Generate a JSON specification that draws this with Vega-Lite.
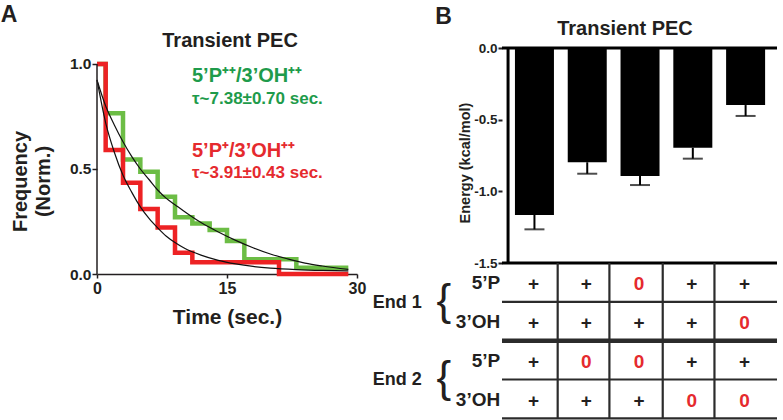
{
  "$schema": "https://vega.github.io/schema/vega-lite/v6.json",
  "background": "white",
  "padding": {"left": 0, "top": 4, "right": 0, "bottom": 0},
  "spacing": 6,
  "config": {
    "font": "Liberation Sans",
    "view": {"stroke": null},
    "axis": {"grid": false, "labelFontWeight": "bold", "titleFontWeight": "bold", "labelColor": "#231f20", "titleColor": "#231f20", "domainColor": "#231f20", "tickColor": "#231f20", "labelFont": "Liberation Sans", "titleFont": "Liberation Sans"}
  },
  "datasets": {
    "green_hist": [
      {"time": 0, "frequency": 1.0}, {"time": 1, "frequency": 0.765}, {"time": 3, "frequency": 0.545},
      {"time": 5, "frequency": 0.487}, {"time": 7, "frequency": 0.368}, {"time": 9, "frequency": 0.27},
      {"time": 11, "frequency": 0.24}, {"time": 13, "frequency": 0.21}, {"time": 15, "frequency": 0.157},
      {"time": 17, "frequency": 0.07}, {"time": 19, "frequency": 0.07}, {"time": 21, "frequency": 0.07},
      {"time": 23, "frequency": 0.03}, {"time": 25, "frequency": 0.03}, {"time": 27, "frequency": 0.03},
      {"time": 29, "frequency": 0.03}
    ],
    "red_hist": [
      {"time": 0, "frequency": 1.0}, {"time": 1, "frequency": 0.59}, {"time": 3, "frequency": 0.435},
      {"time": 5, "frequency": 0.31}, {"time": 7, "frequency": 0.222}, {"time": 9, "frequency": 0.101},
      {"time": 11, "frequency": 0.056}, {"time": 13, "frequency": 0.056}, {"time": 15, "frequency": 0.056},
      {"time": 17, "frequency": 0.056}, {"time": 19, "frequency": 0.056}, {"time": 21, "frequency": 0},
      {"time": 23, "frequency": 0}, {"time": 25, "frequency": 0}, {"time": 27, "frequency": 0},
      {"time": 29, "frequency": 0}
    ],
    "green_fit": [
      {"time": 0, "frequency": 0.924}, {"time": 1, "frequency": 0.80}, {"time": 2, "frequency": 0.71},
      {"time": 3, "frequency": 0.63}, {"time": 4, "frequency": 0.56}, {"time": 5, "frequency": 0.50},
      {"time": 6, "frequency": 0.45}, {"time": 7, "frequency": 0.40}, {"time": 8, "frequency": 0.36},
      {"time": 9, "frequency": 0.33}, {"time": 10, "frequency": 0.30}, {"time": 12, "frequency": 0.245},
      {"time": 14, "frequency": 0.20}, {"time": 16, "frequency": 0.16}, {"time": 18, "frequency": 0.125},
      {"time": 20, "frequency": 0.095}, {"time": 22, "frequency": 0.072}, {"time": 24, "frequency": 0.052},
      {"time": 26, "frequency": 0.038}, {"time": 29, "frequency": 0.022}
    ],
    "red_fit": [
      {"time": 0, "frequency": 0.924}, {"time": 1, "frequency": 0.72}, {"time": 2, "frequency": 0.58},
      {"time": 3, "frequency": 0.47}, {"time": 4, "frequency": 0.39}, {"time": 5, "frequency": 0.32},
      {"time": 6, "frequency": 0.265}, {"time": 7, "frequency": 0.22}, {"time": 8, "frequency": 0.18},
      {"time": 9, "frequency": 0.15}, {"time": 10, "frequency": 0.125}, {"time": 12, "frequency": 0.09},
      {"time": 14, "frequency": 0.065}, {"time": 16, "frequency": 0.048}, {"time": 18, "frequency": 0.036},
      {"time": 20, "frequency": 0.028}, {"time": 23, "frequency": 0.021}, {"time": 26, "frequency": 0.017},
      {"time": 29, "frequency": 0.015}
    ],
    "energy": [
      {"col": 1, "energy": -1.165, "lower": -1.265},
      {"col": 2, "energy": -0.797, "lower": -0.877},
      {"col": 3, "energy": -0.893, "lower": -0.956},
      {"col": 4, "energy": -0.696, "lower": -0.772},
      {"col": 5, "energy": -0.398, "lower": -0.474}
    ],
    "cells": [
      {"col": 1, "row": 1, "mark": "+"}, {"col": 2, "row": 1, "mark": "+"}, {"col": 3, "row": 1, "mark": "0"}, {"col": 4, "row": 1, "mark": "+"}, {"col": 5, "row": 1, "mark": "+"},
      {"col": 1, "row": 2, "mark": "+"}, {"col": 2, "row": 2, "mark": "+"}, {"col": 3, "row": 2, "mark": "+"}, {"col": 4, "row": 2, "mark": "+"}, {"col": 5, "row": 2, "mark": "0"},
      {"col": 1, "row": 3, "mark": "+"}, {"col": 2, "row": 3, "mark": "0"}, {"col": 3, "row": 3, "mark": "0"}, {"col": 4, "row": 3, "mark": "+"}, {"col": 5, "row": 3, "mark": "+"},
      {"col": 1, "row": 4, "mark": "+"}, {"col": 2, "row": 4, "mark": "+"}, {"col": 3, "row": 4, "mark": "+"}, {"col": 4, "row": 4, "mark": "0"}, {"col": 5, "row": 4, "mark": "0"}
    ],
    "row_labels": [
      {"row": 1, "label": "5’P"}, {"row": 2, "label": "3’OH"}, {"row": 3, "label": "5’P"}, {"row": 4, "label": "3’OH"}
    ],
    "end_labels": [
      {"row": 1.5, "label": "End 1"}, {"row": 3.5, "label": "End 2"}
    ],
    "thin_rows": [{"boundary": 1.5}, {"boundary": 3.5}, {"boundary": 4.5}],
    "thick_rows": [{"boundary": 2.5}],
    "col_edges": [{"edge": 1.44}, {"edge": 2.42}, {"edge": 3.43}, {"edge": 4.41}]
  },
  "hconcat": [
    {
      "width": 260,
      "height": 226,
      "layer": [
        {
          "data": {"name": "green_hist"},
          "mark": {"type": "line", "interpolate": "step-after", "color": "#6cbd45", "strokeWidth": 4.5},
          "encoding": {
            "x": {"field": "time", "type": "quantitative", "scale": {"domain": [0, 30], "nice": false},
              "axis": {"values": [0, 15, 30], "title": "Time (sec.)", "titleFontSize": 21, "labelFontSize": 16, "tickSize": 4, "tickWidth": 1.5, "domainWidth": 1.5, "labelPadding": 2, "titlePadding": 10, "labelFlush": false}},
            "y": {"field": "frequency", "type": "quantitative", "scale": {"domain": [0, 1.07619], "nice": false},
              "axis": {"values": [0, 0.5, 1], "format": ".1f", "domain": false, "title": ["Frequency", "(Norm.)"], "titleFontSize": 20, "titleLineHeight": 23, "titleY": 133, "labelFontSize": 15.5, "tickSize": 5, "tickWidth": 1.5, "labelPadding": 1, "titlePadding": 16}}
          }
        },
        {
          "data": {"name": "red_hist"},
          "mark": {"type": "line", "interpolate": "step-after", "color": "#ed2224", "strokeWidth": 4.5},
          "encoding": {
            "x": {"field": "time", "type": "quantitative", "scale": {"domain": [0, 30], "nice": false}},
            "y": {"field": "frequency", "type": "quantitative", "scale": {"domain": [0, 1.07619], "nice": false}}
          }
        },
        {
          "data": {"name": "green_fit"},
          "mark": {"type": "line", "interpolate": "monotone", "color": "#111111", "strokeWidth": 1.2},
          "encoding": {
            "x": {"field": "time", "type": "quantitative", "scale": {"domain": [0, 30], "nice": false}},
            "y": {"field": "frequency", "type": "quantitative", "scale": {"domain": [0, 1.07619], "nice": false}}
          }
        },
        {
          "data": {"name": "red_fit"},
          "mark": {"type": "line", "interpolate": "monotone", "color": "#111111", "strokeWidth": 1.2},
          "encoding": {
            "x": {"field": "time", "type": "quantitative", "scale": {"domain": [0, 30], "nice": false}},
            "y": {"field": "frequency", "type": "quantitative", "scale": {"domain": [0, 1.07619], "nice": false}}
          }
        },
        {
          "data": {"values": [{"start": 0, "end": 1}]},
          "mark": {"type": "rule", "color": "#231f20", "strokeWidth": 1.5},
          "encoding": {
            "x": {"datum": 0},
            "y": {"field": "start", "type": "quantitative", "scale": {"domain": [0, 1.07619], "nice": false}},
            "y2": {"field": "end"}
          }
        },
        {
          "data": {"values": [{"label": "A"}]},
          "mark": {"type": "text", "fontSize": 23, "fontWeight": "bold", "color": "#231f20", "align": "center", "baseline": "middle"},
          "encoding": {"text": {"field": "label"}, "x": {"datum": -10.15}, "y": {"datum": 1.231}}
        },
        {
          "data": {"values": [{"label": "Transient PEC"}]},
          "mark": {"type": "text", "fontSize": 20, "fontWeight": "bold", "color": "#231f20", "align": "center", "baseline": "middle"},
          "encoding": {"text": {"field": "label"}, "x": {"datum": 15.35}, "y": {"datum": 1.108}}
        },
        {
          "data": {"values": [{"label": "5’P⁺⁺/3’OH⁺⁺"}]},
          "mark": {"type": "text", "fontSize": 20, "fontWeight": "bold", "color": "#1e9b4b", "align": "left", "baseline": "middle"},
          "encoding": {"text": {"field": "label"}, "x": {"datum": 10.96}, "y": {"datum": 0.945}}
        },
        {
          "data": {"values": [{"label": "τ~7.38±0.70 sec."}]},
          "mark": {"type": "text", "fontSize": 17, "fontWeight": "bold", "color": "#1e9b4b", "align": "left", "baseline": "middle"},
          "encoding": {"text": {"field": "label"}, "x": {"datum": 10.96}, "y": {"datum": 0.833}}
        },
        {
          "data": {"values": [{"label": "5’P⁺/3’OH⁺⁺"}]},
          "mark": {"type": "text", "fontSize": 20, "fontWeight": "bold", "color": "#e52a2e", "align": "left", "baseline": "middle"},
          "encoding": {"text": {"field": "label"}, "x": {"datum": 10.96}, "y": {"datum": 0.588}}
        },
        {
          "data": {"values": [{"label": "τ~3.91±0.43 sec."}]},
          "mark": {"type": "text", "fontSize": 17, "fontWeight": "bold", "color": "#e52a2e", "align": "left", "baseline": "middle"},
          "encoding": {"text": {"field": "label"}, "x": {"datum": 10.96}, "y": {"datum": 0.483}}
        }
      ]
    },
    {
      "width": 275,
      "height": 371,
      "layer": [
        {
          "layer": [
            {
              "data": {"name": "energy"},
              "mark": {"type": "bar", "width": 39, "color": "#000000"},
              "encoding": {
                "x": {"field": "col", "type": "quantitative", "scale": {"domain": [0.48, 5.5], "nice": false, "zero": false}, "axis": null},
                "y": {"field": "energy", "type": "quantitative", "scale": {"domain": [-2.588, 0], "nice": false},
                  "axis": {"values": [0, -0.5, -1, -1.5], "labelExpr": "datum.value == 0 ? '0.0' : '-' + format(-datum.value, '.1f')", "domain": false, "title": "Energy (kcal/mol)", "titleFontSize": 14.5, "titleY": 114.5, "titleX": -30, "labelFontSize": 13.5, "tickSize": 4, "tickWidth": 2, "labelPadding": 1}}
              }
            },
            {
              "data": {"name": "energy"},
              "mark": {"type": "rule", "color": "#000000", "strokeWidth": 2},
              "encoding": {
                "x": {"field": "col", "type": "quantitative", "scale": {"domain": [0.48, 5.5], "nice": false, "zero": false}, "axis": null},
                "y": {"field": "energy", "type": "quantitative", "scale": {"domain": [-2.588, 0], "nice": false}},
                "y2": {"field": "lower"}
              }
            },
            {
              "data": {"name": "energy"},
              "mark": {"type": "tick", "orient": "horizontal", "color": "#000000", "size": 20, "thickness": 2},
              "encoding": {
                "x": {"field": "col", "type": "quantitative", "scale": {"domain": [0.48, 5.5], "nice": false, "zero": false}, "axis": null},
                "y": {"field": "lower", "type": "quantitative", "scale": {"domain": [-2.588, 0], "nice": false}}
              }
            },
            {
              "data": {"values": [{"level": 0}, {"level": -1.5}]},
              "mark": {"type": "rule", "color": "#000000", "strokeWidth": 3},
              "encoding": {
                "y": {"field": "level", "type": "quantitative", "scale": {"domain": [-2.588, 0], "nice": false}}
              }
            },
            {
              "data": {"values": [{"top": 0, "bottom": -1.5}]},
              "mark": {"type": "rule", "color": "#000000", "strokeWidth": 3},
              "encoding": {
                "x": {"datum": 0.5},
                "y": {"field": "top", "type": "quantitative", "scale": {"domain": [-2.588, 0], "nice": false}},
                "y2": {"field": "bottom"}
              }
            },
            {
              "data": {"values": [{"label": "Transient PEC"}]},
              "mark": {"type": "text", "fontSize": 20, "fontWeight": "bold", "color": "#231f20", "align": "center", "baseline": "middle"},
              "encoding": {"text": {"field": "label"}, "x": {"datum": 2.715}, "y": {"datum": 0.13}}
            },
            {
              "data": {"values": [{"label": "B"}]},
              "mark": {"type": "text", "fontSize": 23, "fontWeight": "bold", "color": "#231f20", "align": "center", "baseline": "middle"},
              "encoding": {"text": {"field": "label"}, "x": {"datum": -0.72}, "y": {"datum": 0.213}}
            }
          ]
        },
        {
          "layer": [
            {
              "data": {"name": "thin_rows"},
              "mark": {"type": "rule", "color": "#2b2b2b", "strokeWidth": 2.2},
              "encoding": {
                "y": {"field": "boundary", "type": "quantitative", "scale": {"domain": [-5.037, 4.5175], "reverse": true, "nice": false, "zero": false}, "axis": null}
              }
            },
            {
              "data": {"name": "thick_rows"},
              "mark": {"type": "rule", "color": "#2b2b2b", "strokeWidth": 4.5},
              "encoding": {
                "y": {"field": "boundary", "type": "quantitative", "scale": {"domain": [-5.037, 4.5175], "reverse": true, "nice": false, "zero": false}, "axis": null}
              }
            },
            {
              "data": {"name": "col_edges"},
              "mark": {"type": "rule", "color": "#2b2b2b", "strokeWidth": 2.2},
              "encoding": {
                "x": {"field": "edge", "type": "quantitative", "scale": {"domain": [0.48, 5.5], "nice": false, "zero": false}, "axis": null},
                "y": {"datum": 0.5, "scale": {"domain": [-5.037, 4.5175], "reverse": true, "nice": false, "zero": false}, "axis": null},
                "y2": {"datum": 4.5}
              }
            },
            {
              "data": {"name": "cells"},
              "mark": {"type": "text", "fontSize": 19, "fontWeight": "bold", "align": "center", "baseline": "middle", "dx": -1, "dy": 2},
              "encoding": {
                "x": {"field": "col", "type": "quantitative", "scale": {"domain": [0.48, 5.5], "nice": false, "zero": false}, "axis": null},
                "y": {"field": "row", "type": "quantitative", "scale": {"domain": [-5.037, 4.5175], "reverse": true, "nice": false, "zero": false}, "axis": null},
                "text": {"field": "mark"},
                "color": {"field": "mark", "type": "nominal", "scale": {"domain": ["+", "0"], "range": ["#231f20", "#e52a2e"]}, "legend": null}
              }
            },
            {
              "data": {"name": "row_labels"},
              "mark": {"type": "text", "fontSize": 19, "fontWeight": "bold", "align": "right", "baseline": "middle", "color": "#231f20", "dy": 1},
              "encoding": {
                "x": {"datum": 0.351},
                "y": {"field": "row", "type": "quantitative", "scale": {"domain": [-5.037, 4.5175], "reverse": true, "nice": false, "zero": false}, "axis": null},
                "text": {"field": "label"}
              }
            },
            {
              "data": {"name": "end_labels"},
              "mark": {"type": "text", "fontSize": 18, "fontWeight": "bold", "align": "center", "baseline": "middle", "color": "#231f20", "dy": 1},
              "encoding": {
                "x": {"datum": -1.6},
                "y": {"field": "row", "type": "quantitative", "scale": {"domain": [-5.037, 4.5175], "reverse": true, "nice": false, "zero": false}, "axis": null},
                "text": {"field": "label"}
              }
            },
            {
              "data": {"name": "end_labels"},
              "mark": {"type": "text", "fontSize": 44, "fontWeight": "normal", "align": "center", "baseline": "middle", "color": "#231f20", "text": "{"},
              "encoding": {
                "x": {"datum": -0.716},
                "y": {"field": "row", "type": "quantitative", "scale": {"domain": [-5.037, 4.5175], "reverse": true, "nice": false, "zero": false}, "axis": null}
              }
            }
          ]
        }
      ],
      "resolve": {"scale": {"y": "independent"}}
    }
  ]
}
